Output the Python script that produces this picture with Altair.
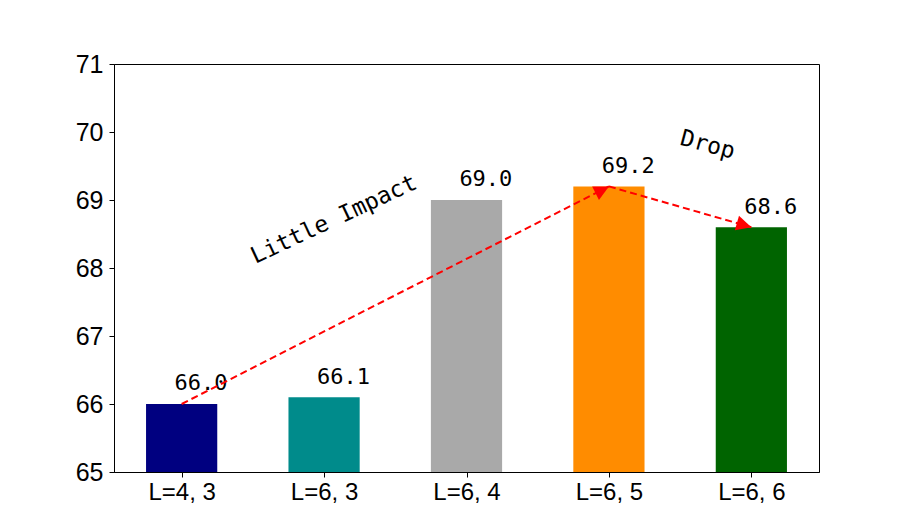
import math
import altair as alt
import pandas as pd

categories = ["L=4, 3", "L=6, 3", "L=6, 4", "L=6, 5", "L=6, 6"]
values = [66.0, 66.1, 69.0, 69.2, 68.6]
colors = ["#000080", "#008B8B", "#A9A9A9", "#FF8C00", "#006400"]

# arrows: (from index, to index)
arrow_pairs = [(0, 3), (3, 4)]
# annotations: text, x (category units), y (value units), angle
ann_text = ["Little Impact", "Drop"]
ann_x = [1.09, 3.68]
ann_y = [68.62, 69.71]
ann_angle = [335, 15]

W, H = 705, 408
XDOM = [-0.475, 4.475]
YDOM = [65, 71]
kx = W / (XDOM[1] - XDOM[0])
ky = H / (YDOM[1] - YDOM[0])

bars = pd.DataFrame({
    "idx": list(range(len(categories))),
    "cat": categories,
    "value": values,
    "color": colors,
})
bars["lo"] = bars["idx"] - 0.25
bars["hi"] = bars["idx"] + 0.25
bars["lx"] = bars["idx"] - 0.05
bars["ly"] = bars["value"] + 0.2
bars["label"] = [f"{v:.1f}" for v in values]

arr = pd.DataFrame({
    "x1": [a for a, b in arrow_pairs],
    "y1": [values[a] for a, b in arrow_pairs],
    "x2": [b for a, b in arrow_pairs],
    "y2": [values[b] for a, b in arrow_pairs],
})
arr["ang"] = [
    (math.degrees(math.atan2((r.x2 - r.x1) * kx, (r.y2 - r.y1) * ky)) % 360)
    for r in arr.itertuples()
]

ann = pd.DataFrame({"t": ann_text, "x": ann_x, "y": ann_y, "a": ann_angle})

xs = alt.Scale(domain=XDOM, nice=False, zero=False)
ys = alt.Scale(domain=YDOM, nice=False, zero=False)

label_expr = "[" + ",".join(f"'{c}'" for c in categories) + "][datum.value]"

base = alt.Chart(bars)

bar_layer = base.mark_bar().encode(
    x=alt.X("lo:Q", scale=xs, axis=alt.Axis(
        values=list(range(len(categories))), labelExpr=label_expr, title=None,
        labelFont="Liberation Sans", labelFontSize=24, labelColor="black",
        tickSize=5, labelPadding=3, grid=False, domainColor="black", tickColor="black")),
    x2="hi:Q",
    y=alt.Y("value:Q", scale=ys, axis=alt.Axis(
        values=list(range(65, 72)), format="d", title=None,
        labelFont="Liberation Sans", labelFontSize=25, labelColor="black",
        tickSize=5, labelPadding=6, grid=False, domainColor="black", tickColor="black")),
    y2=alt.datum(65),
    color=alt.Color("color:N", scale=None),
)

text_layer = base.mark_text(
    align="left", baseline="alphabetic", font="DejaVu Sans Mono", fontSize=22, color="black"
).encode(
    x=alt.X("lx:Q", scale=xs),
    y=alt.Y("ly:Q", scale=ys),
    text="label:N",
)

arrow_lines = alt.Chart(arr).mark_rule(
    color="red", strokeWidth=2, strokeDash=[7, 4]
).encode(
    x=alt.X("x1:Q", scale=xs), y=alt.Y("y1:Q", scale=ys),
    x2="x2:Q", y2="y2:Q",
)

arrow_heads = alt.Chart(arr).mark_point(
    shape="M0,0L-0.5,1L0.5,1Z", filled=True, color="red", opacity=1, size=900
).encode(
    x=alt.X("x2:Q", scale=xs), y=alt.Y("y2:Q", scale=ys),
    angle=alt.Angle("ang:Q", scale=None),
)

ann_layer = alt.Chart(ann).mark_text(
    align="center", baseline="alphabetic", font="DejaVu Sans Mono", fontSize=23, color="black"
).encode(
    x=alt.X("x:Q", scale=xs), y=alt.Y("y:Q", scale=ys),
    text="t:N",
    angle=alt.Angle("a:Q", scale=None),
)

chart = alt.layer(bar_layer, text_layer, arrow_lines, arrow_heads, ann_layer).properties(
    width=W, height=H,
    autosize=alt.AutoSizeParams(type="none"),
    padding={"left": 106, "top": 56, "right": 60, "bottom": 50},
    background="white",
).configure_view(stroke="black", strokeWidth=1)

chart.save("out.html", embed_options={"renderer": "svg", "actions": False})
